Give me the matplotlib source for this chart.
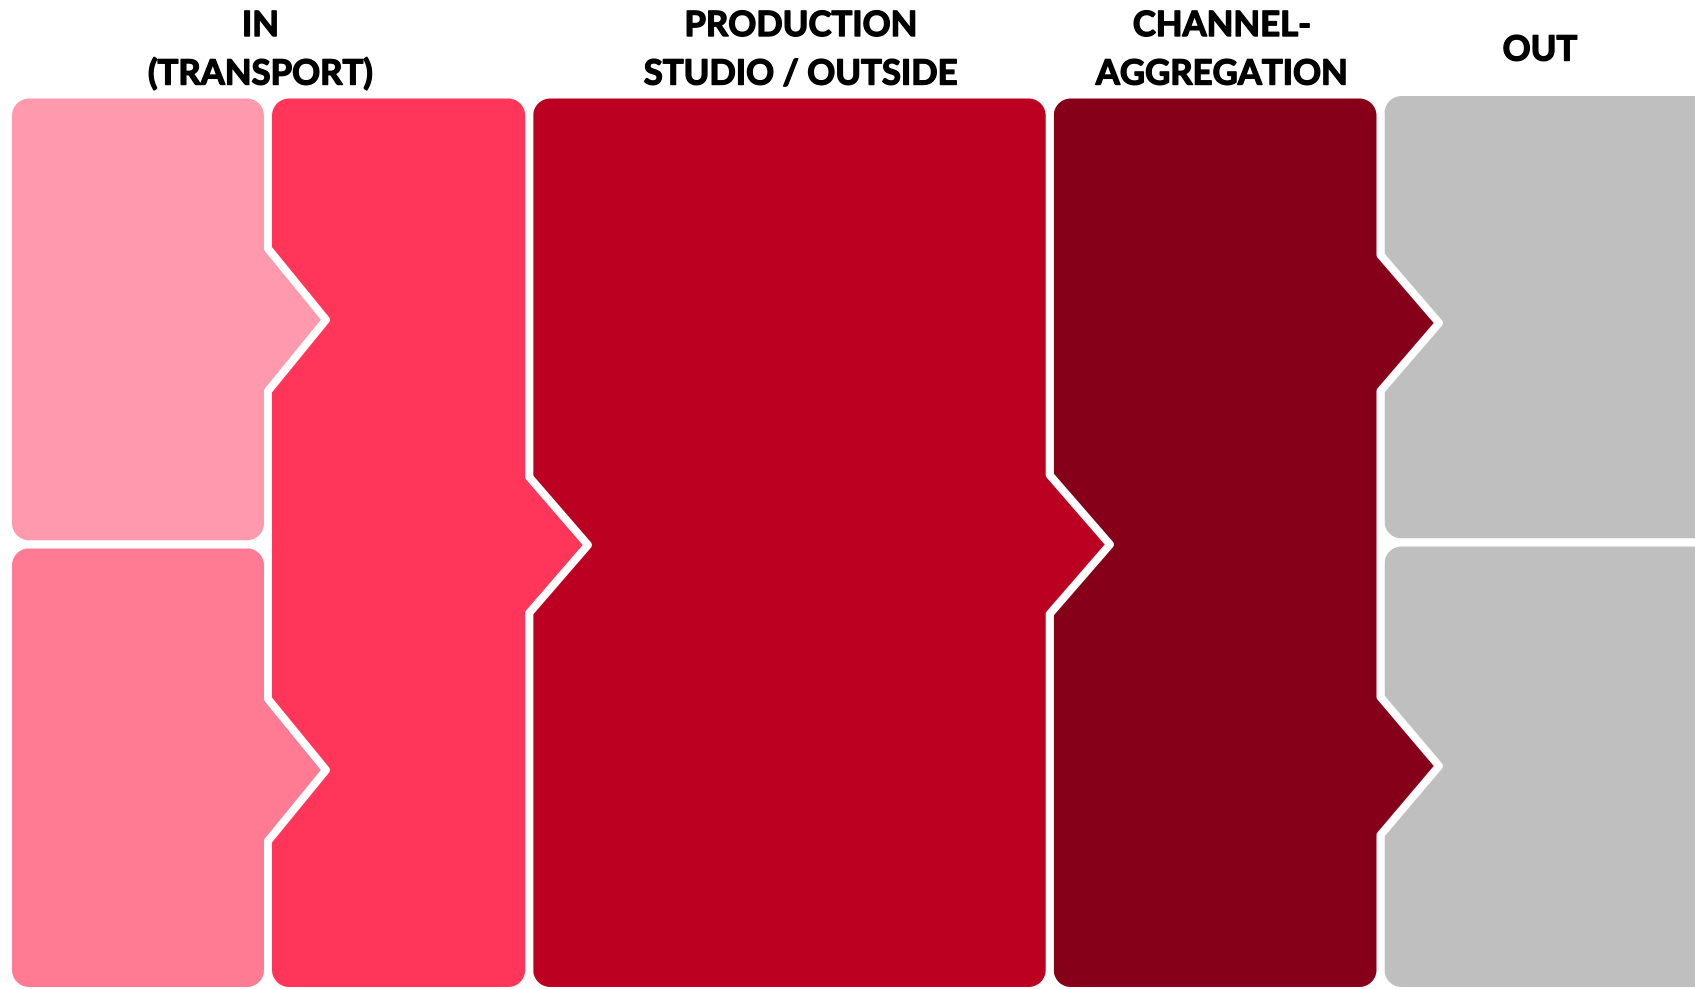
import matplotlib.pyplot as plt
import matplotlib.patheffects as pe
import numpy as np
from matplotlib.patches import Polygon

# stage headers and their x centers (pixel coords, y down)
titles = ["IN\n(TRANSPORT)", "PRODUCTION\nSTUDIO / OUTSIDE", "CHANNEL-\nAGGREGATION", "OUT"]
title_x = [260.5, 801, 1222, 1540]

colors = ["#FF9AAE", "#FF7A93", "#FF3659", "#BB0022", "#850018", "#BFBFBF"]

W, H = 1695, 989
R = 21          # corner radius
LW = 8          # white outline width in px


def box(x0, x1, y0, y1, chevrons=(), r=R, n=14):
    """rounded rectangle, optional arrow points on the right edge"""
    pts = []
    t = np.linspace(-np.pi / 2, 0, n)
    pts += list(zip(x1 - r + r * np.cos(t), y0 + r + r * np.sin(t)))
    for ya, yb, tip in sorted(chevrons):
        pts += [(x1, ya), (tip, (ya + yb) / 2), (x1, yb)]
    t = np.linspace(0, np.pi / 2, n)
    pts += list(zip(x1 - r + r * np.cos(t), y1 - r + r * np.sin(t)))
    t = np.linspace(np.pi / 2, np.pi, n)
    pts += list(zip(x0 + r + r * np.cos(t), y1 - r + r * np.sin(t)))
    t = np.linspace(np.pi, 1.5 * np.pi, n)
    pts += list(zip(x0 + r + r * np.cos(t), y0 + r + r * np.sin(t)))
    return pts


fig = plt.figure(figsize=(W / 100, H / 100), dpi=100)
ax = fig.add_axes([0, 0, 1, 1])
ax.set_xlim(0, W)
ax.set_ylim(H, 0)
ax.axis("off")

top, bot = 94.5, 991
# drawn right to left so the arrow points sit on top
shapes = [
    (box(1380.5, 1760, 92, 542.5), colors[5]),
    (box(1380.5, 1760, 542.5, 991), colors[5]),
    (box(1049.7, 1380.5, top, bot, [(255, 391, 1439), (697, 835, 1439)]), colors[4]),
    (box(529.2, 1049.7, top, bot, [(475, 614, 1110)]), colors[3]),
    (box(268, 529.2, top, bot, [(477, 613, 588)]), colors[2]),
    (box(8, 268, 544.3, bot, [(699, 841, 326)]), colors[1]),
    (box(8, 268, top, 544.3, [(248.6, 391, 326)]), colors[0]),
]
for pts, c in shapes:
    ax.add_patch(Polygon(pts, closed=True, facecolor=c, edgecolor="white",
                         linewidth=LW * 72 / 100, joinstyle="round"))

font = dict(family=["Lato", "DejaVu Sans"], fontweight="bold", fontsize=25,
            color="black", ha="center", va="baseline",
            path_effects=[pe.withStroke(linewidth=1.0, foreground="black")])
for txt, x in zip(titles, title_x):
    lines = txt.split("\n")
    if len(lines) == 1:
        ax.text(x, 60.5, lines[0], **font)
    else:
        ax.text(x, 36, lines[0], **font)
        ax.text(x, 84.5, lines[1], **font)

fig.savefig("out.png", dpi=100)
